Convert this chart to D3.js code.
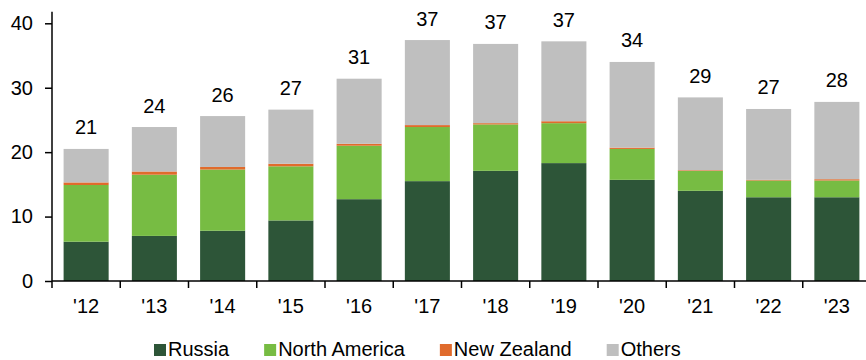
<!DOCTYPE html>
<html>
<head>
<meta charset="utf-8">
<script src="https://cdn.jsdelivr.net/npm/d3@7"></script>
<style>
  body { margin: 0; background: #fff; }
  svg { display: block; font-family: "Liberation Sans", Arial, sans-serif; }
</style>
</head>
<body>
<svg id="chart" width="866" height="360"></svg>
<script>
const years = ["'12","'13","'14","'15","'16","'17","'18","'19","'20","'21","'22","'23"];
const russia = [6.1, 7.0, 7.8, 9.4, 12.7, 15.5, 17.1, 18.3, 15.7, 14.0, 13.0, 13.0];
const northAmerica = [8.8, 9.5, 9.5, 8.4, 8.3, 8.4, 7.2, 6.2, 4.8, 3.1, 2.6, 2.6];
const newZealand = [0.4, 0.5, 0.4, 0.4, 0.3, 0.3, 0.2, 0.3, 0.2, 0.1, 0.1, 0.2];
const others = [5.2, 6.9, 7.9, 8.4, 10.1, 13.2, 12.3, 12.4, 13.3, 11.3, 11.0, 12.0];
const totalLabels = ["21","24","26","27","31","37","37","37","34","29","27","28"];
const yTicks = [0, 10, 20, 30, 40];
const seriesNames = ["Russia", "North America", "New Zealand", "Others"];
const seriesColors = ["#2d5538", "#77bc43", "#e06b2c", "#bfbfbf"];

const svg = d3.select("#chart");
const fontSize = 20;

const data = years.map((yr, i) => ({
  year: yr,
  "Russia": russia[i],
  "North America": northAmerica[i],
  "New Zealand": newZealand[i],
  "Others": others[i]
}));

const x = d3.scaleBand().domain(years).range([52, 871]).paddingInner(0.34).paddingOuter(0.17);
const y = d3.scaleLinear().domain([0, 40]).range([281, 23.3]);
const color = d3.scaleOrdinal().domain(seriesNames).range(seriesColors);

const stackGen = d3.stack().keys(seriesNames);
const series = stackGen(data);

svg.append("g").selectAll("g").data(series).join("g")
  .attr("fill", d => color(d.key))
  .selectAll("rect").data(d => d).join("rect")
  .attr("x", d => x(d.data.year))
  .attr("width", x.bandwidth())
  .attr("y", d => y(d[1]))
  .attr("height", d => y(d[0]) - y(d[1]));

// total labels
const topSeries = series[series.length - 1];
svg.append("g").selectAll("text").data(topSeries).join("text")
  .attr("x", d => x(d.data.year) + x.bandwidth() / 2)
  .attr("y", d => y(d[1]) - 14.5)
  .attr("text-anchor", "middle")
  .attr("font-size", fontSize)
  .attr("fill", "#000")
  .text((d, i) => totalLabels[i]);

// y axis
const yAxis = svg.append("g").attr("transform", "translate(52,0)")
  .call(d3.axisLeft(y).tickValues(yTicks).tickSize(7).tickPadding(12).tickSizeOuter(0));
yAxis.select(".domain").attr("d", `M0,${y(0)}V${y(41.8)}`);
yAxis.selectAll(".domain, .tick line").attr("stroke", "#000").attr("stroke-width", 1.5);
yAxis.selectAll("text").attr("font-size", fontSize).attr("fill", "#000").attr("font-family", "Liberation Sans, Arial, sans-serif");

// x axis
const xAxisG = svg.append("g").attr("transform", `translate(0,${y(0)})`);
xAxisG.append("line")
  .attr("x1", x.range()[0]).attr("x2", x.range()[1])
  .attr("stroke", "#000").attr("stroke-width", 1.5);
const bounds = years.map(v => x(v) - x.step() * x.paddingInner() / 2).concat([x.range()[1]]);
xAxisG.selectAll("line.tk").data(bounds).join("line").attr("class", "tk")
  .attr("x1", d => d).attr("x2", d => d).attr("y1", 0).attr("y2", 7)
  .attr("stroke", "#000").attr("stroke-width", 1.5);
xAxisG.selectAll("text").data(years).join("text")
  .attr("x", d => x(d) + x.bandwidth() / 2)
  .attr("y", 31.7)
  .attr("text-anchor", "middle")
  .attr("font-size", fontSize)
  .attr("fill", "#000")
  .text(d => d);

// legend
const legend = svg.append("g").attr("transform", "translate(154,0)");
let lx = 0;
seriesNames.forEach((name, i) => {
  const g = legend.append("g").attr("transform", `translate(${lx},0)`);
  g.append("rect").attr("x", 0).attr("y", 344).attr("width", 12).attr("height", 12).attr("fill", seriesColors[i]);
  const t = g.append("text").attr("x", 14).attr("y", 355.5)
    .attr("font-size", fontSize).attr("fill", "#000").text(name);
  lx += 14 + t.node().getComputedTextLength() + 35;
});
</script>
</body>
</html>
